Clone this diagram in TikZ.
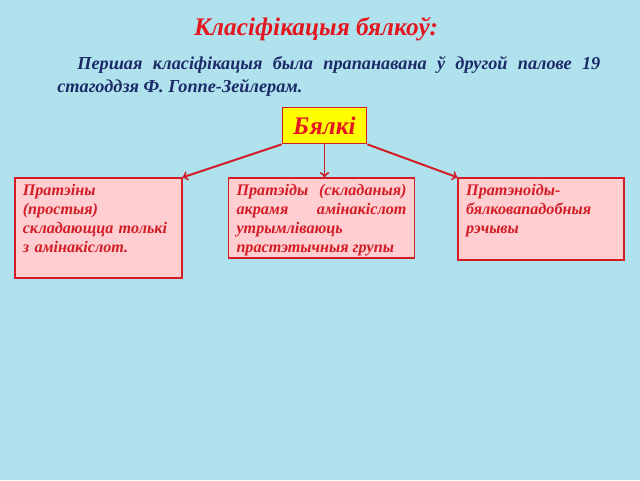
\documentclass[tikz,border=0pt]{standalone}
\usepackage{fontspec}
\setmainfont{Liberation Serif}
\usetikzlibrary{positioning,arrows}

\definecolor{dropblue}{RGB}{176,226,237}
\definecolor{titlered}{RGB}{228,22,32}
\definecolor{navytext}{RGB}{28,42,104}
\definecolor{boxred}{RGB}{210,28,38}
\definecolor{boxpink}{RGB}{255,206,208}
\definecolor{headyellow}{RGB}{255,255,0}

\begin{document}
\begin{tikzpicture}[
	classbox/.style={rectangle, line width=1.2pt, draw=boxred, fill=boxpink, text=boxred, font=\fontsize{11.5}{13.5}\selectfont\bfseries\itshape, inner xsep=0.2cm, inner ysep=0.15cm, text height=8pt},
	headfont/.style={font=\fontsize{18}{21}\selectfont\bfseries\itshape}
	]
	% background
	\fill[dropblue] (0,0) rectangle (16,12);
	\useasboundingbox (0,0) rectangle (16,12);

	\node[anchor=base, text=titlered, headfont] (title) at (7.9,11.1) {Класіфікацыя бялкоў:};

	\node[anchor=north west, text width=13.575cm, inner sep=0pt, align=justify, text=navytext, font=\fontsize{13}{16.4}\selectfont\bfseries\itshape] (intro) at (1.425,10.6) {\hspace*{0.5cm}Першая класіфікацыя была прапанавана ў другой палове 19\linebreak стагоддзя Ф. Гоппе-Зейлерам.};

	\node[rectangle, line width=1.2pt, draw=boxred, fill=headyellow, text=titlered, headfont, minimum width=2.1cm, minimum height=0.9cm] (bialki) at (8.1125,8.8625) {Бялкі};

	\node[classbox, below=0.825cm of bialki, xshift=-0.075cm, anchor=north, text width=4.25cm, text depth=1.42cm, align=justify] (proteidy) {Пратэіды (складаныя)\linebreak акрамя амінакіслот\linebreak утрымліваюць\\ прастэтычныя групы};

	\node[classbox, left=1.125cm of proteidy.north west, anchor=north east, text width=3.775cm, text depth=1.92cm, align=left] (proteiny) {Пратэіны\\ (простыя)\\ складающца толькі\\ з амінакіслот.};

	\node[classbox, right=1.05cm of proteidy.north east, anchor=north west, text width=3.75cm, text depth=1.47cm, align=left] (proteinoidy) {Пратэноіды-\\ бялковападобныя\\ рэчывы};

	\path [line width=1.4pt, draw=boxred, -to] (bialki.south west) -- (proteiny.north east);
	\path [line width=1.4pt, draw=boxred, -to] (bialki.south) -- (bialki.south |- proteidy.north);
	\path [line width=1.4pt, draw=boxred, -to] (bialki.south east) -- (proteinoidy.north west);
\end{tikzpicture}
\end{document}
